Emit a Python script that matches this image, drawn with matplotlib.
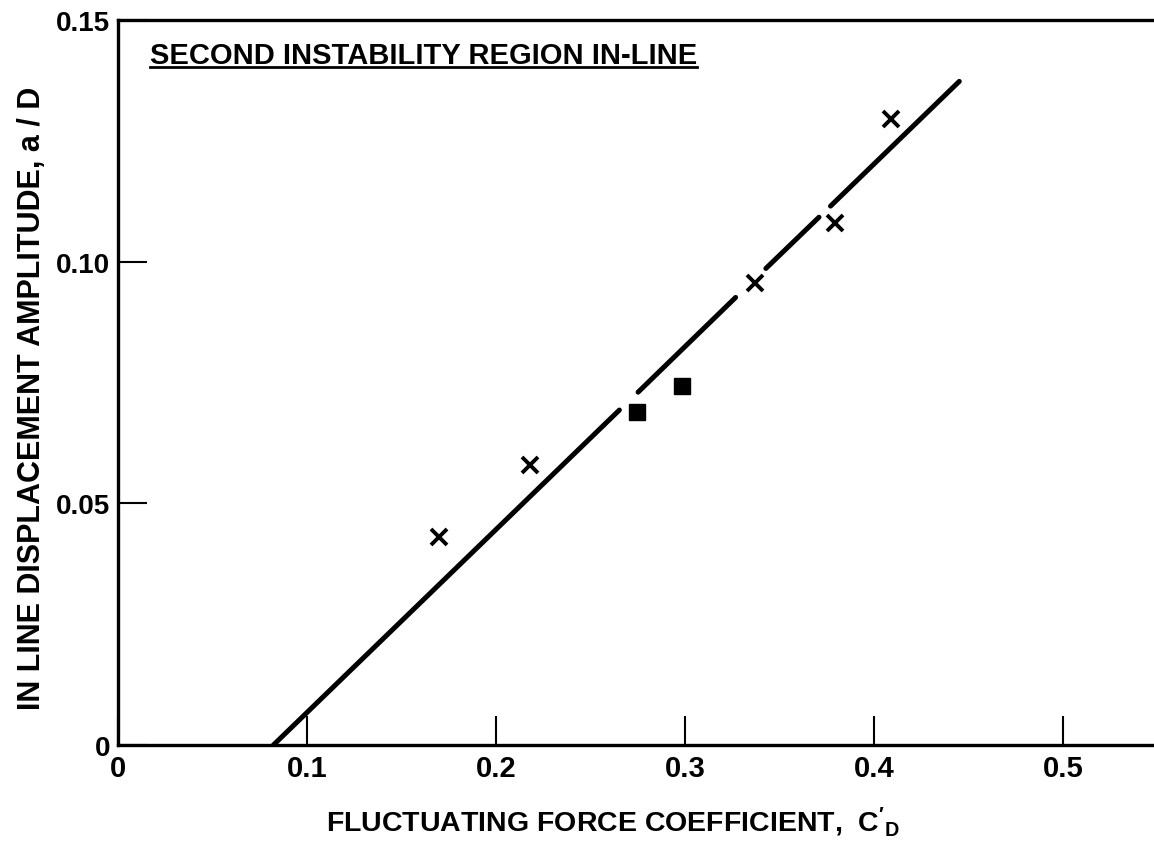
import matplotlib
matplotlib.use("Agg")
import matplotlib.pyplot as plt
import numpy as np

font = ["Liberation Sans", "DejaVu Sans"]
plt.rcParams["font.family"] = font
plt.rcParams["mathtext.fontset"] = "custom"
plt.rcParams["mathtext.rm"] = "Liberation Sans:bold"
plt.rcParams["mathtext.it"] = "Liberation Sans:bold"

# crosses
cross_x = [0.170, 0.218, 0.337, 0.379, 0.409]
cross_y = [0.043, 0.058, 0.0956, 0.108, 0.1296]
# filled squares
sq_x = [0.2745, 0.2982]
sq_y = [0.0688, 0.0742]
# fitted line, broken where it passes the symbols
line_x = [0.0822, 0.2652, np.nan, 0.2751, 0.3267, np.nan, 0.3427, 0.3708, np.nan, 0.3769, 0.445]
line_y = [0.0, 0.0693, np.nan, 0.0730, 0.0926, np.nan, 0.0986, 0.1092, np.nan, 0.1115, 0.1373]

xticks = [0, 0.1, 0.2, 0.3, 0.4, 0.5]
xticklabels = ["0", "0.1", "0.2", "0.3", "0.4", "0.5"]
yticks = [0, 0.05, 0.10, 0.15]
yticklabels = ["0", "0.05", "0.10", "0.15"]

fig = plt.figure(figsize=(11.54, 8.54), dpi=100)
ax = fig.add_axes([118/1154, 1-746/854, (1154-118)/1154, (746-21)/854])

ax.plot(line_x, line_y, color="black", lw=3.6, solid_capstyle="round")
ax.plot(cross_x, cross_y, "x", color="black", ms=12, mew=2.8)
ax.plot(sq_x, sq_y, "s", color="black", ms=12)

ax.set_xlim(0, 0.548)
ax.set_ylim(0, 0.15)
ax.spines["right"].set_visible(False)
for s in ["left", "bottom", "top"]:
    ax.spines[s].set_linewidth(2.4)

ax.set_xticks(xticks)
ax.set_xticklabels(xticklabels, fontweight="bold", fontsize=21)
ax.set_yticks(yticks)
ax.set_yticklabels(yticklabels, fontweight="bold", fontsize=20)
ax.tick_params(axis="both", direction="in", length=21, width=1.5, color="black")
ax.tick_params(axis="x", pad=6.5)
ax.tick_params(axis="y", pad=5.5)

ax.set_xlabel(r"FLUCTUATING FORCE COEFFICIENT,  $\mathrm{C}'_{\mathrm{D}}$",
              fontweight="bold", fontsize=20.5, va="baseline")
ax.xaxis.set_label_coords(0.478, -0.1188)
ax.set_ylabel("IN LINE DISPLACEMENT AMPLITUDE, a / D",
              fontweight="bold", fontsize=22, va="baseline")
ax.yaxis.set_label_coords(-0.0753, 0.480)

title = ax.text(0.031, 0.9406, "SECOND INSTABILITY REGION IN-LINE", transform=ax.transAxes,
                fontweight="bold", fontsize=21, va="baseline", ha="left")

# underline the in-plot title
fig.canvas.draw()
bb = title.get_window_extent().transformed(ax.transAxes.inverted())
ax.plot([bb.x0, bb.x1], [0.935, 0.935], transform=ax.transAxes,
        color="black", lw=2.0, clip_on=False)

fig.savefig("out.png", dpi=100)
